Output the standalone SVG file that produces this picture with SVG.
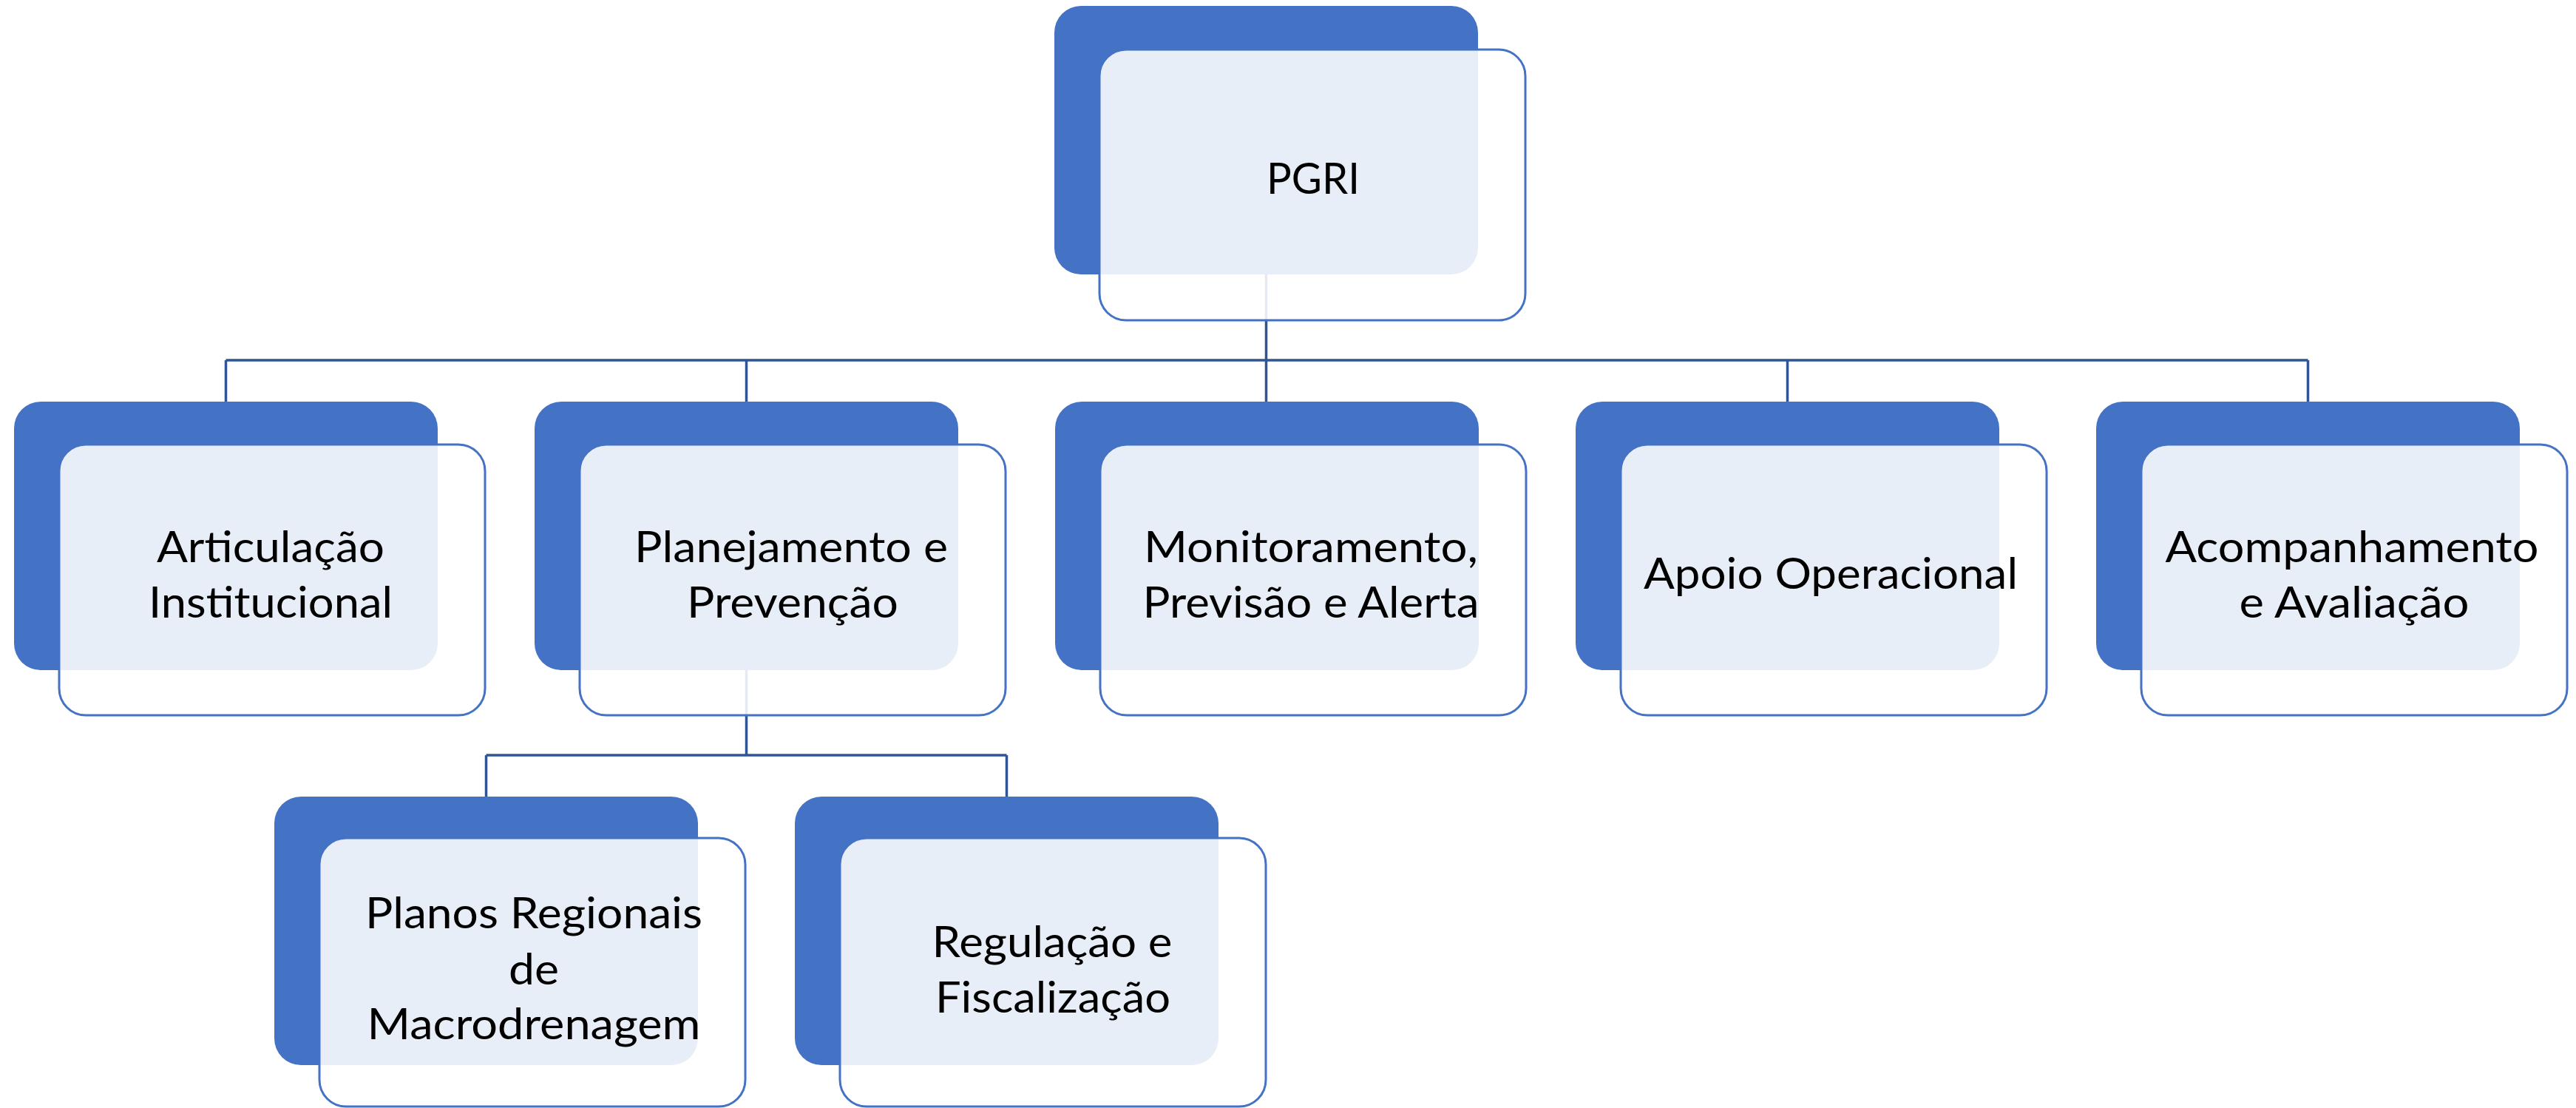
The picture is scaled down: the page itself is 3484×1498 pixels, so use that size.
<svg xmlns="http://www.w3.org/2000/svg" width="3484" height="1498" viewBox="0 0 3484 1498">
<style>
.bg{fill:#ffffff}
.dark{fill:#4472C4}
.light{fill:#ffffff;fill-opacity:0.88;stroke:#4472C4;stroke-width:3}
.lbl{font-family:Lato,"Liberation Sans",sans-serif;font-size:59px;fill:#000000;text-anchor:middle}
.conn{fill:none;stroke:#2F5597;stroke-width:3.5}
</style>
<rect class="bg" x="0" y="0" width="3484" height="1498"/>
<g id="connectors">
  <path class="conn" d="M1712.5 371 V487 M305.5 487 H3121.5 M305.5 487 V543 M1009.5 487 V543 M1712.5 487 V543 M2417.5 487 V543 M3121.5 487 V543"/>
  <path class="conn" d="M1009.5 906 V1021 M657.5 1021 H1361.5 M657.5 1021 V1077 M1361.5 1021 V1077"/>
</g>
<g id="node-pgri">
  <rect class="dark" x="1426" y="8" width="573" height="363" rx="36"/>
  <rect class="light" x="1487" y="67" width="576" height="366" rx="36"/>
  <text class="lbl" x="1776" y="262" textLength="126" lengthAdjust="spacingAndGlyphs">PGRI</text>
</g>
<g id="node-articulacao">
  <rect class="dark" x="19" y="543" width="573" height="363" rx="36"/>
  <rect class="light" x="80" y="601" width="576" height="366" rx="36"/>
  <text class="lbl" x="366" y="760" textLength="308" lengthAdjust="spacingAndGlyphs">Articulação</text>
  <text class="lbl" x="366" y="835" textLength="330" lengthAdjust="spacingAndGlyphs">Institucional</text>
</g>
<g id="node-planejamento">
  <rect class="dark" x="723" y="543" width="573" height="363" rx="36"/>
  <rect class="light" x="784" y="601" width="576" height="366" rx="36"/>
  <text class="lbl" x="1070" y="760" textLength="424" lengthAdjust="spacingAndGlyphs">Planejamento e</text>
  <text class="lbl" x="1072" y="835" textLength="286" lengthAdjust="spacingAndGlyphs">Prevenção</text>
</g>
<g id="node-monitoramento">
  <rect class="dark" x="1427" y="543" width="573" height="363" rx="36"/>
  <rect class="light" x="1488" y="601" width="576" height="366" rx="36"/>
  <text class="lbl" x="1773" y="760" textLength="452" lengthAdjust="spacingAndGlyphs">Monitoramento,</text>
  <text class="lbl" x="1773" y="835" textLength="455" lengthAdjust="spacingAndGlyphs">Previsão e Alerta</text>
</g>
<g id="node-apoio">
  <rect class="dark" x="2131" y="543" width="573" height="363" rx="36"/>
  <rect class="light" x="2192" y="601" width="576" height="366" rx="36"/>
  <text class="lbl" x="2476" y="796" textLength="506" lengthAdjust="spacingAndGlyphs">Apoio Operacional</text>
</g>
<g id="node-acompanhamento">
  <rect class="dark" x="2835" y="543" width="573" height="363" rx="36"/>
  <rect class="light" x="2896" y="601" width="576" height="366" rx="36"/>
  <text class="lbl" x="3181" y="760" textLength="505" lengthAdjust="spacingAndGlyphs">Acompanhamento</text>
  <text class="lbl" x="3184" y="835" textLength="311" lengthAdjust="spacingAndGlyphs">e Avaliação</text>
</g>
<g id="node-planos">
  <rect class="dark" x="371" y="1077" width="573" height="363" rx="36"/>
  <rect class="light" x="432" y="1133" width="576" height="363" rx="36"/>
  <text class="lbl" x="722" y="1255" textLength="456" lengthAdjust="spacingAndGlyphs">Planos Regionais</text>
  <text class="lbl" x="722" y="1331" textLength="68" lengthAdjust="spacingAndGlyphs">de</text>
  <text class="lbl" x="722" y="1405" textLength="451" lengthAdjust="spacingAndGlyphs">Macrodrenagem</text>
</g>
<g id="node-regulacao">
  <rect class="dark" x="1075" y="1077" width="573" height="363" rx="36"/>
  <rect class="light" x="1136" y="1133" width="576" height="363" rx="36"/>
  <text class="lbl" x="1423" y="1294" textLength="325" lengthAdjust="spacingAndGlyphs">Regulação e</text>
  <text class="lbl" x="1424" y="1369" textLength="318" lengthAdjust="spacingAndGlyphs">Fiscalização</text>
</g>
</svg>
